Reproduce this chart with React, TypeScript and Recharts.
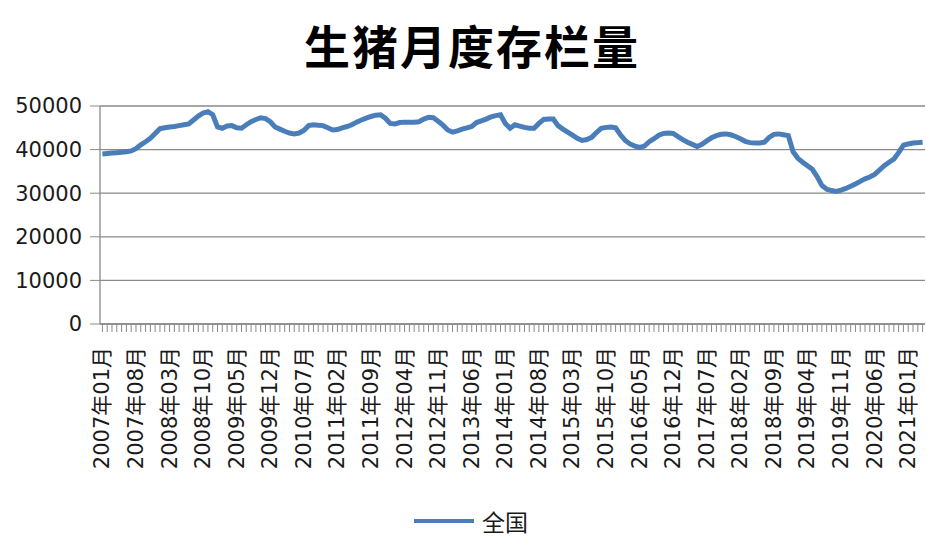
import React from 'react';
import { LineChart, Line, XAxis, YAxis, CartesianGrid, Legend } from 'recharts';

const startYear = 2007;
const monthCount = 172;

// categories: 2007年01月 ... 2021年04月
const months: string[] = [];
for (let i = 0; i < monthCount; i++) {
  const y = startYear + Math.floor(i / 12);
  const m = (i % 12) + 1;
  months.push(`${y}年${m < 10 ? '0' + m : m}月`);
}

// 全国 生猪存栏 (万头)
const quanguo = [
  39000, 39100, 39200, 39300, 39400, 39500, 39700, 40200, 41100, 41800,
  42600, 43700, 44800, 45000, 45200, 45300, 45500, 45700, 45900, 46800,
  47700, 48400, 48700, 48000, 45200, 44900, 45400, 45500, 45000,
  44900, 45700, 46400, 46900, 47300, 47100, 46400, 45200, 44700, 44200,
  43800, 43600, 43800, 44400, 45500, 45700, 45600, 45500, 45000, 44500,
  44600, 45000, 45300, 45700, 46300, 46800, 47200, 47600,
  47900, 48000, 47200, 46000, 45900, 46200, 46300, 46300, 46300, 46400,
  47000, 47400, 47300, 46500, 45600, 44500, 44000, 44300, 44700, 45000,
  45300, 46200, 46600, 47000, 47500, 47800, 48000, 46000, 44900,
  45700, 45400, 45100, 44900, 44900, 46000, 46900, 47000, 47000, 45500,
  44700, 44000, 43300, 42600, 42100, 42300, 42800, 43900, 44900, 45100,
  45200, 45000, 43400, 42100, 41300, 40800, 40500, 40800,
  41800, 42500, 43300, 43700, 43800, 43700, 43000, 42300, 41700, 41200,
  40700, 41200, 42000, 42700, 43200, 43500, 43600, 43400, 43000, 42500,
  41900, 41600, 41500, 41500, 41700, 42800, 43500, 43600, 43400, 43200,
  39500, 38000, 37100, 36300, 35500, 33800, 31800, 30900, 30600, 30400,
  30700, 31100, 31600, 32100, 32700, 33300, 33700, 34300, 35300, 36300,
  37100, 37800, 39300, 41000, 41300, 41500, 41600, 41700,
];

const yTicks = [0, 10000, 20000, 30000, 40000, 50000];
const labelEvery = 7;

const data = months.map((month, i) => ({ month, value: quanguo[i] }));

const BLUE = '#4A7EBB';
const GRID = '#8a8a8a';

const MonthTick = (props: any) => {
  const { x, y, index, payload } = props;
  if (index % labelEvery !== 0) return <g />;
  const ty = y + 13;
  return (
    <text
      x={x}
      y={ty}
      transform={`rotate(-90 ${x} ${ty})`}
      textAnchor="end"
      dominantBaseline="central"
      fontSize={21}
      fontFamily="'DejaVu Sans', 'Noto Sans CJK SC'"
      fill="#1a1a1a"
    >
      {payload.value}
    </text>
  );
};

const LegendContent = () => (
  <div style={{ display: 'flex', justifyContent: 'center', alignItems: 'center', paddingLeft: 16, height: 26 }}>
    <div style={{ width: 60, height: 4, background: BLUE, marginRight: 8 }} />
    <span style={{ fontSize: 23, fontFamily: "'Noto Sans CJK SC'", color: '#1a1a1a', lineHeight: '26px' }}>全国</span>
  </div>
);

export default function App() {
  return (
    <div style={{ position: 'absolute', left: 0, top: 0, width: 926, height: 537, background: '#fff' }}>
      <div
        style={{
          position: 'absolute',
          left: 9,
          top: 14,
          width: 926,
          textAlign: 'center',
          fontSize: 46,
          fontWeight: 700,
          letterSpacing: 2,
          fontFamily: "'Noto Sans CJK SC'",
          color: '#000',
          lineHeight: '60px',
        }}
      >
        生猪月度存栏量
      </div>
      <LineChart width={926} height={537} data={data} margin={{ top: 106, right: 1, left: 0, bottom: 0 }}>
        <CartesianGrid vertical={false} stroke={GRID} strokeWidth={1.3} />
        <XAxis
          dataKey="month"
          interval={0}
          height={213}
          tickSize={8}
          padding={{ left: 2.4, right: 2.4 }}
          axisLine={{ stroke: GRID, strokeWidth: 1.3 }}
          tickLine={{ stroke: GRID }}
          tick={<MonthTick />}
        />
        <YAxis
          domain={[0, 50000]}
          ticks={yTicks}
          width={100}
          tickSize={10}
          tickMargin={8}
          axisLine={{ stroke: GRID, strokeWidth: 1.3 }}
          tickLine={{ stroke: GRID }}
          tick={{ fontSize: 21, fontFamily: "'DejaVu Sans'", fill: '#1a1a1a' }}
        />
        <Legend
          verticalAlign="middle"
          align="center"
          wrapperStyle={{ top: 508, left: 0, width: 926 }}
          content={<LegendContent />}
        />
        <Line
          type="linear"
          dataKey="value"
          name="全国"
          stroke={BLUE}
          strokeWidth={5}
          dot={false}
          isAnimationActive={false}
        />
      </LineChart>
    </div>
  );
}
